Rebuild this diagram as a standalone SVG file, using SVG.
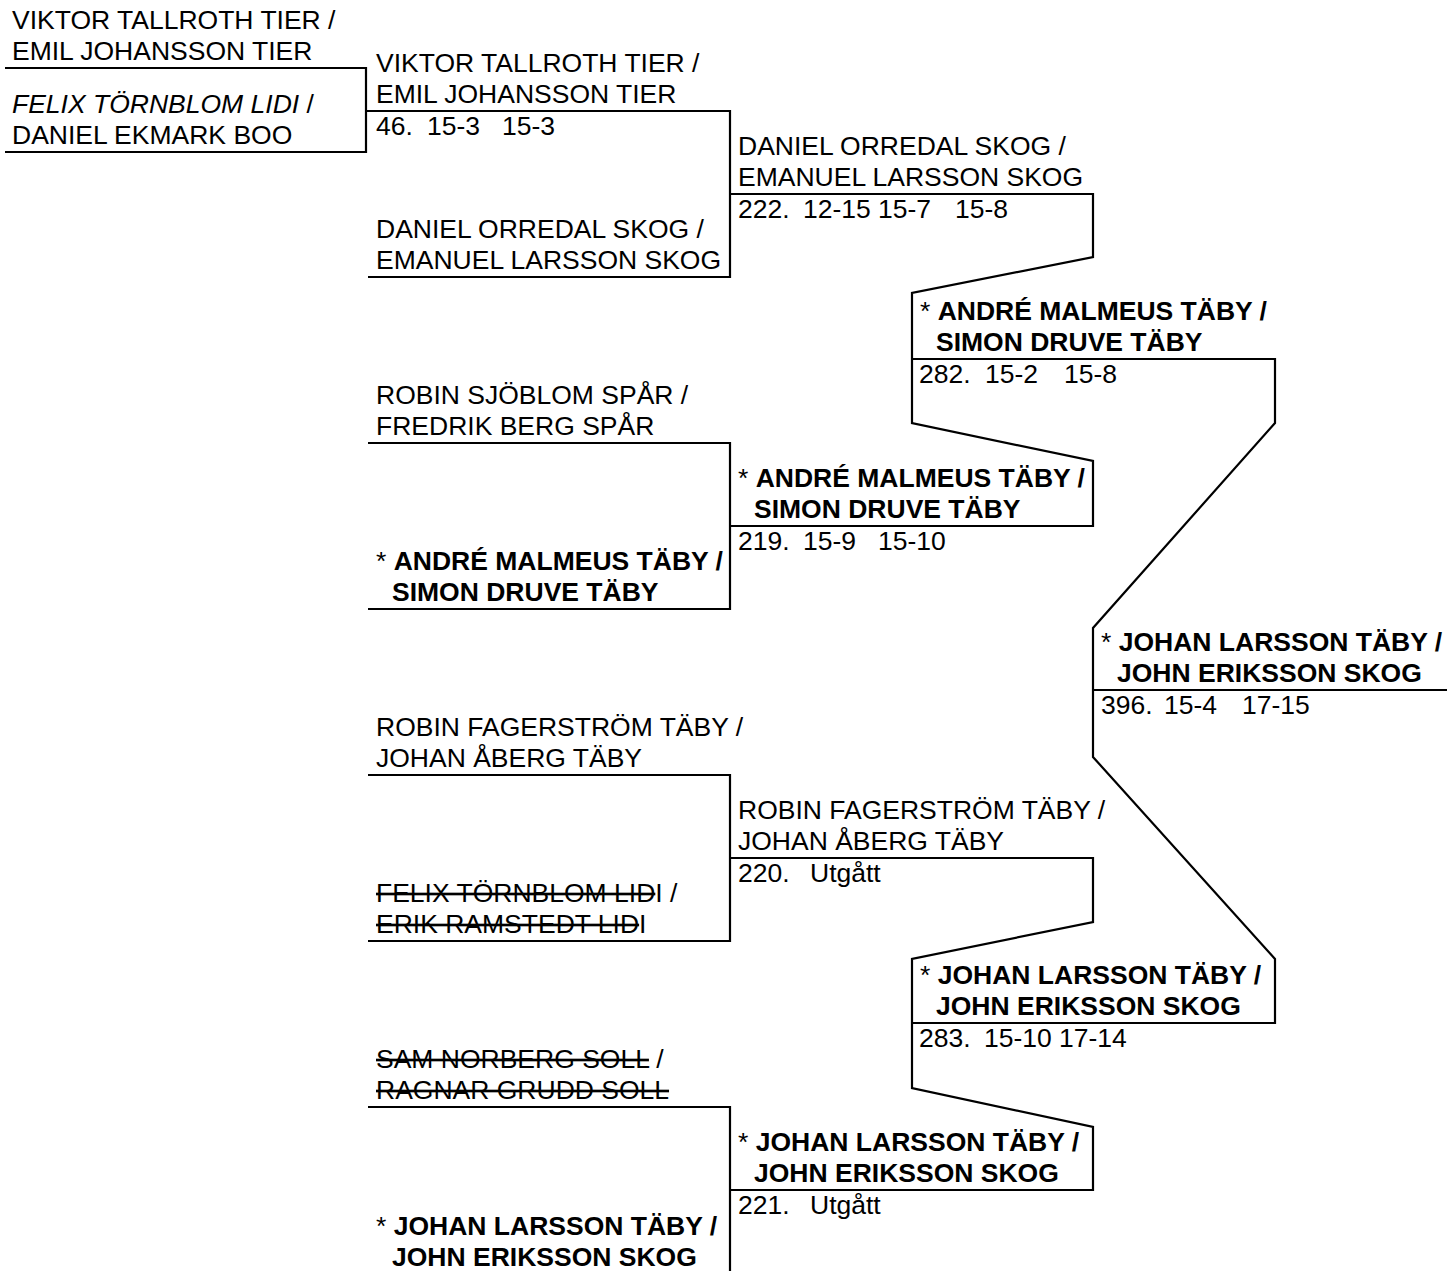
<svg xmlns="http://www.w3.org/2000/svg" width="1447" height="1271" viewBox="0 0 1447 1271">
<style>
text{font-family:"Liberation Sans",Arial,Helvetica,sans-serif;font-size:26.5px;fill:#000}
.b{font-weight:bold}
.n{font-weight:normal}
.i{font-style:italic}
.s{text-decoration:line-through}
.c path{fill:none;stroke:#000;stroke-width:2.2;stroke-linejoin:miter}
</style>
<rect width="1447" height="1271" fill="#fff"/>
<g id="connectors" class="c">
<path d="M5,68 H366 V152 H5"/>
<path d="M366,111 H730 V277 H368"/>
<path d="M368,443 H730 V609 H368"/>
<path d="M368,775 H730 V941 H368"/>
<path d="M368,1107 H730 V1274 H368"/>
<path d="M730,194 H1093 V257 L912,293 V423 L1093,461 V526 H730"/>
<path d="M730,858 H1093 V922 L912,959 V1088 L1093,1127 V1190 H730"/>
<path d="M912,359 H1275 V423 L1093,628 V757 L1275,959 V1023 H912"/>
<path d="M1093,690 H1447"/>
</g>
<g id="r0-top">
<text x="12" y="29">VIKTOR TALLROTH TIER /</text>
<text x="12" y="60">EMIL JOHANSSON TIER</text>
</g>
<g id="r0-bottom">
<text x="12" y="113"><tspan class="i">FELIX TÖRNBLOM LIDI</tspan> /</text>
<text x="12" y="144">DANIEL EKMARK BOO</text>
</g>
<g id="r1-46-top">
<text x="376" y="72">VIKTOR TALLROTH TIER /</text>
<text x="376" y="103">EMIL JOHANSSON TIER</text>
<text x="376" y="135"><tspan x="376">46.</tspan><tspan x="427">15-3</tspan><tspan x="502">15-3</tspan></text>
</g>
<g id="r1-46-bottom">
<text x="376" y="238">DANIEL ORREDAL SKOG /</text>
<text x="376" y="269">EMANUEL LARSSON SKOG</text>
</g>
<g id="r1-219-top">
<text x="376" y="404">ROBIN SJÖBLOM SPÅR /</text>
<text x="376" y="435">FREDRIK BERG SPÅR</text>
</g>
<g id="r1-219-bottom">
<text class="b" x="376" y="570"><tspan class="n">* </tspan>ANDRÉ MALMEUS TÄBY /</text>
<text class="b" x="392" y="601">SIMON DRUVE TÄBY</text>
</g>
<g id="r1-220-top">
<text x="376" y="736">ROBIN FAGERSTRÖM TÄBY /</text>
<text x="376" y="767">JOHAN ÅBERG TÄBY</text>
</g>
<g id="r1-220-bottom">
<text x="376" y="902"><tspan class="s">FELIX TÖRNBLOM LID</tspan>I /</text>
<text x="376" y="933"><tspan class="s">ERIK RAMSTEDT LID</tspan>I</text>
</g>
<g id="r1-221-top">
<text x="376" y="1068"><tspan class="s">SAM NORBERG SOLL</tspan> /</text>
<text x="376" y="1099"><tspan class="s">RAGNAR GRUDD SOLL</tspan></text>
</g>
<g id="r1-221-bottom">
<text class="b" x="376" y="1235"><tspan class="n">* </tspan>JOHAN LARSSON TÄBY /</text>
<text class="b" x="392" y="1266">JOHN ERIKSSON SKOG</text>
</g>
<g id="r2-222">
<text x="738" y="155">DANIEL ORREDAL SKOG /</text>
<text x="738" y="186">EMANUEL LARSSON SKOG</text>
<text y="218"><tspan x="738">222.</tspan><tspan x="803">12-15</tspan><tspan x="878">15-7</tspan><tspan x="955">15-8</tspan></text>
</g>
<g id="r2-219">
<text class="b" x="738" y="487"><tspan class="n">* </tspan>ANDRÉ MALMEUS TÄBY /</text>
<text class="b" x="754" y="518">SIMON DRUVE TÄBY</text>
<text y="550"><tspan x="738">219.</tspan><tspan x="803">15-9</tspan><tspan x="878">15-10</tspan></text>
</g>
<g id="r2-220">
<text x="738" y="819">ROBIN FAGERSTRÖM TÄBY /</text>
<text x="738" y="850">JOHAN ÅBERG TÄBY</text>
<text y="882"><tspan x="738">220.</tspan><tspan x="810">Utgått</tspan></text>
</g>
<g id="r2-221">
<text class="b" x="738" y="1151"><tspan class="n">* </tspan>JOHAN LARSSON TÄBY /</text>
<text class="b" x="754" y="1182">JOHN ERIKSSON SKOG</text>
<text y="1214"><tspan x="738">221.</tspan><tspan x="810">Utgått</tspan></text>
</g>
<g id="r3-282">
<text class="b" x="920" y="320"><tspan class="n">* </tspan>ANDRÉ MALMEUS TÄBY /</text>
<text class="b" x="936" y="351">SIMON DRUVE TÄBY</text>
<text y="383"><tspan x="919">282.</tspan><tspan x="985">15-2</tspan><tspan x="1064">15-8</tspan></text>
</g>
<g id="r3-283">
<text class="b" x="920" y="984"><tspan class="n">* </tspan>JOHAN LARSSON TÄBY /</text>
<text class="b" x="936" y="1015">JOHN ERIKSSON SKOG</text>
<text y="1047"><tspan x="919">283.</tspan><tspan x="984">15-10</tspan><tspan x="1059">17-14</tspan></text>
</g>
<g id="r4-396">
<text class="b" x="1101" y="651"><tspan class="n">* </tspan>JOHAN LARSSON TÄBY /</text>
<text class="b" x="1117" y="682">JOHN ERIKSSON SKOG</text>
<text y="714"><tspan x="1101">396.</tspan><tspan x="1164">15-4</tspan><tspan x="1242">17-15</tspan></text>
</g>
</svg>
